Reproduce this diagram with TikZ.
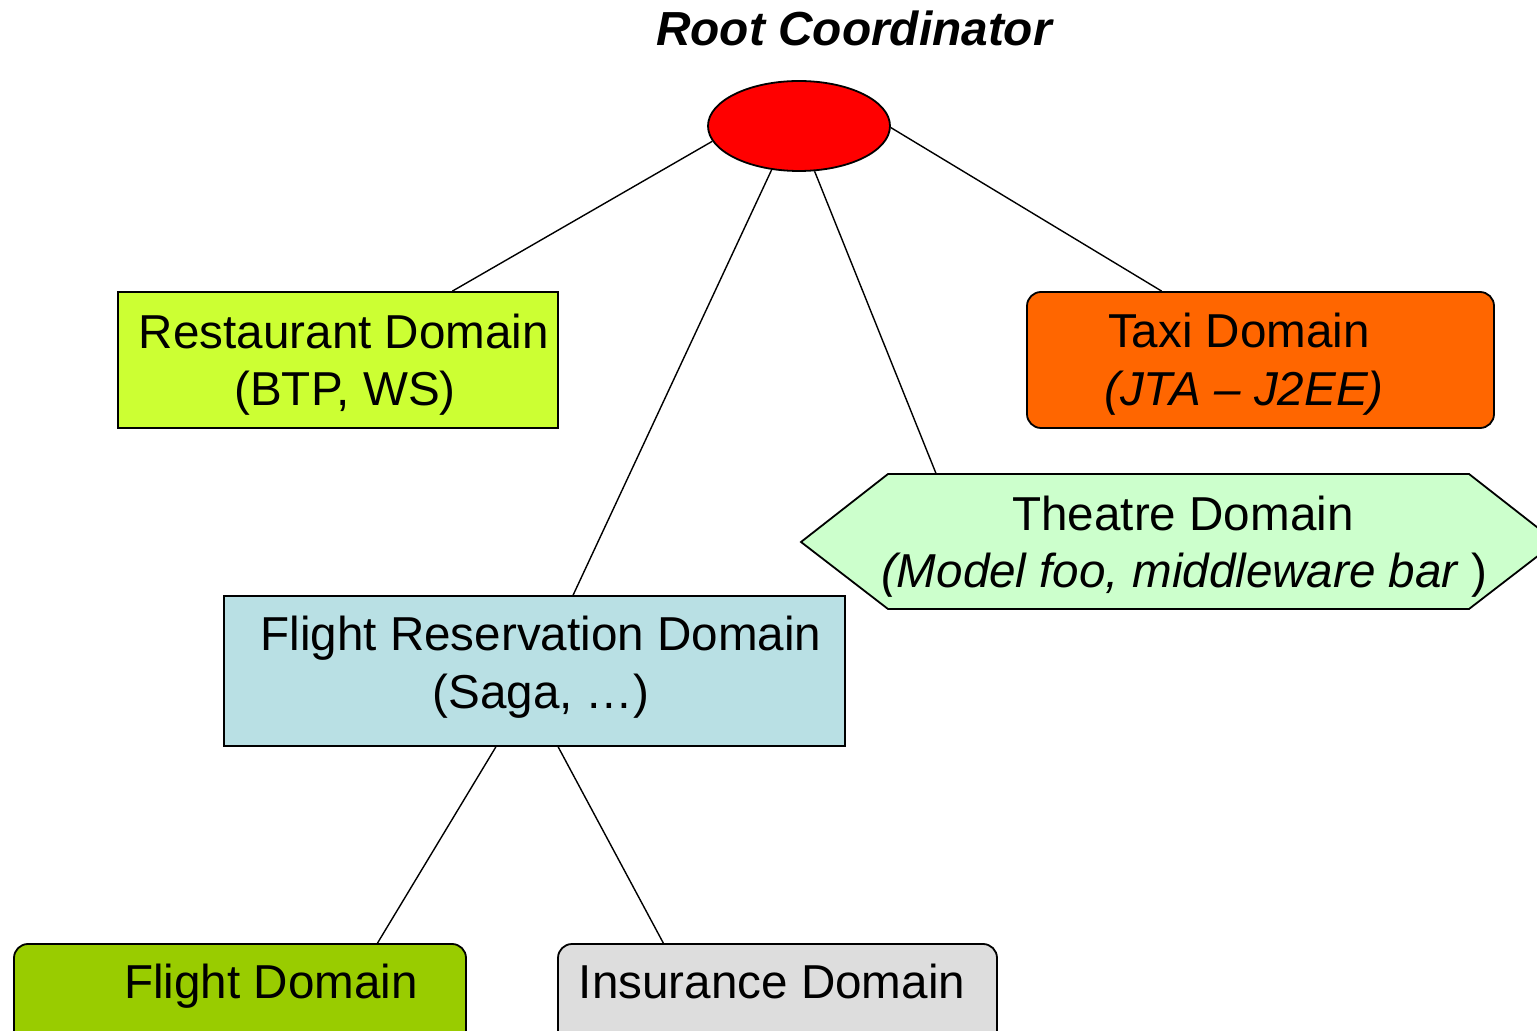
\documentclass[tikz,border=0pt]{standalone}
\usepackage{fontspec}
\setmainfont{Liberation Sans}
\usetikzlibrary{shapes.geometric,calc}
\definecolor{restc}{HTML}{CCFF33}
\definecolor{taxic}{HTML}{FF6600}
\definecolor{theac}{HTML}{CCFFCC}
\definecolor{fresc}{HTML}{B9E0E4}
\definecolor{fdomc}{HTML}{99CC00}
\definecolor{insc}{HTML}{DDDDDD}
\begin{document}
\begin{tikzpicture}[x=0.5pt,y=-0.5pt,
  box/.style={draw=black,line width=0.9pt,inner sep=0pt},
  rbox/.style={box,rounded corners=7pt},
  lbl/.style={anchor=base,inner sep=0pt,font=\fontsize{23.8pt}{28pt}\selectfont},
  conn/.style={draw=black,line width=0.7pt}]
\useasboundingbox (0,0) rectangle (1537,1031);
\clip (0,0) rectangle (1537,1031);

% title and root
\node[lbl,font=\fontsize{23.9pt}{28pt}\selectfont\bfseries\itshape] (title) at (854,46) {Root Coordinator};
\node[ellipse,draw=black,fill=red,line width=0.9pt,minimum width=91pt,minimum height=45pt,inner sep=0pt] (root) at (799,126) {};

% restaurant
\node[box,fill=restc,minimum width=220pt,minimum height=68pt] (rest) at (338,360) {};
\node[lbl] (restA) at (344,349) {Restaurant Domain};
\node[lbl] (restB) at (345,406) {(BTP, WS)};

% taxi
\node[rbox,fill=taxic,minimum width=233.5pt,minimum height=68pt] (taxi) at (1260.5,360) {};
\node[lbl] (taxiA) at (1239,348) {Taxi Domain};
\node[lbl] (taxiB) at (1244,406) {\itshape (JTA – J2EE)};

% theatre hexagon
\draw[fill=theac,line width=0.9pt] (801,542) -- (888,474) coordinate (thTL) -- (1469,474) coordinate (thTR)
  -- (1556,542) -- (1469,609) -- (888,609) -- cycle;
\node[lbl] (theaA) at (1183,531) {Theatre Domain};
\node[lbl] (theaB) at (1184,588) {{\itshape (Model foo, middleware bar })};

% flight reservation
\node[box,fill=fresc,minimum width=310.5pt,minimum height=75pt] (fres) at (534.5,671) {};
\node[lbl] (fresA) at (541,651) {Flight Reservation Domain};
\node[lbl] (fresB) at (541,708) {(Saga, …)};

% flight domain and insurance
\node[rbox,fill=fdomc,minimum width=226pt,minimum height=53pt] (fdom) at (240,997) {};
\node[lbl] (fdomA) at (271,998) {Flight Domain};
\node[rbox,fill=insc,minimum width=219.5pt,minimum height=53pt] (ins) at (777.5,997) {};
\node[lbl] (insA) at (772,998) {Insurance Domain};

% connectors
\draw[conn] (root.190) -- ($(rest.north west)!0.759!(rest.north east)$);
\draw[conn] (root.359) -- ($(taxi.north west)!0.289!(taxi.north east)$);
\draw[conn] (root.238) -- ($(fres.north west)!0.562!(fres.north east)$);
\draw[conn] (root.289) -- ($(thTL)!0.083!(thTR)$);
\draw[conn] ($(fres.south west)!0.438!(fres.south east)$) -- ($(fdom.north west)!0.803!(fdom.north east)$);
\draw[conn] ($(fres.south west)!0.538!(fres.south east)$) -- ($(ins.north west)!0.241!(ins.north east)$);
\end{tikzpicture}
\end{document}
